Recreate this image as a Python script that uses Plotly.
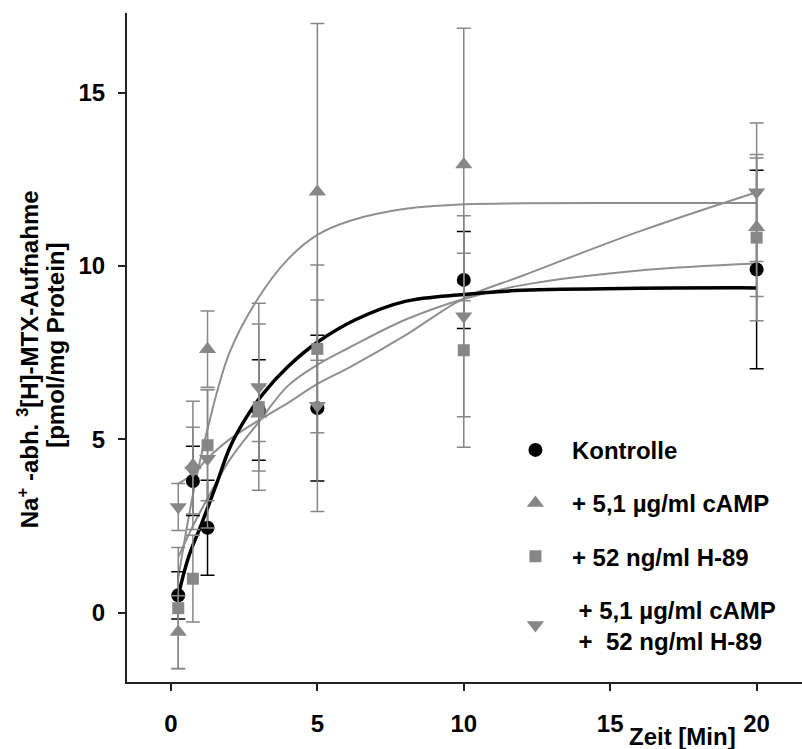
import plotly.graph_objects as go

# ---- data ----
times = [0.25, 0.75, 1.25, 3, 5, 10, 20]

kontrolle = [0.5, 3.8, 2.45, 5.85, 5.9, 9.6, 9.9]
kontrolle_sd = [0.68, 1.0, 1.37, 1.45, 2.1, 1.4, 2.86]

camp = [-0.56, 4.25, 7.6, 5.74, 12.14, 12.93, 11.12]
camp_sd = [1.05, 1.85, 1.1, 0.8, 4.86, 3.93, 2.0]

h89 = [0.13, 0.98, 4.83, 5.93, 7.61, 7.57, 10.82]
h89_sd = [1.75, 1.25, 1.6, 2.4, 2.42, 2.8, 2.4]

both = [3.05, 4.1, 4.44, 6.51, 5.97, 8.55, 12.13]
both_sd = [0.68, 1.25, 2.0, 2.42, 3.05, 2.9, 2.0]

# fitted curves
fit_t_k = [0.25, 0.6, 1.05, 1.56, 2.02, 2.58, 3.15, 4.0, 5.0, 6.3, 8.0, 10.0, 12.0, 16.0, 20.0]
fit_k = [0.5, 1.6, 2.57, 3.72, 4.78, 5.64, 6.32, 7.1, 7.8, 8.45, 8.98, 9.18, 9.3, 9.36, 9.37]

fit_t = [0.25, 0.75, 1.25, 2.0, 3.0, 4.0, 5.0, 6.1, 8.0, 10.0, 12.0, 16.0, 20.0]
fit_camp = [1.0, 3.4, 5.3, 7.5, 9.1, 10.2, 10.9, 11.3, 11.65, 11.78, 11.81, 11.82, 11.82]
fit_h89 = [1.6, 2.5, 3.3, 4.4, 5.5, 6.55, 7.15, 7.65, 8.45, 9.05, 9.45, 9.87, 10.07]
fit_both = [3.72, 4.0, 4.45, 5.0, 5.55, 6.05, 6.6, 7.08, 8.0, 9.07, 9.72, 11.0, 12.13]

x_ticks = [0, 5, 10, 15, 20]
y_ticks = [0, 5, 10, 15]

labels = ["Kontrolle", "+ 5,1 µg/ml cAMP", "+ 52 ng/ml H-89",
          "\u00a0+ 5,1 µg/ml cAMP<br>\u00a0+\u00a0\u00a052 ng/ml H-89"]

GRAY = "#878787"
CURVE_GRAY = "#8f8f8f"
FONT = "Liberation Sans, Arial, sans-serif"

fig = go.Figure()

# fitted curves
for yy in (fit_camp, fit_h89, fit_both):
    fig.add_trace(go.Scatter(x=fit_t, y=yy, mode="lines", showlegend=False,
                             line=dict(color=CURVE_GRAY, width=2, shape="spline", smoothing=1.0),
                             hoverinfo="skip"))
fig.add_trace(go.Scatter(x=fit_t_k, y=fit_k, mode="lines", showlegend=False,
                         line=dict(color="black", width=3.5, shape="spline", smoothing=1.0),
                         hoverinfo="skip"))

# data points
series = [
    (kontrolle, kontrolle_sd, "circle", "black", 14, labels[0]),
    (camp, camp_sd, "triangle-up", GRAY, 15, labels[1]),
    (h89, h89_sd, "square", GRAY, 12, labels[2]),
    (both, both_sd, "triangle-down", GRAY, 15, labels[3]),
]
for i, (vals, sd, sym, col, sz, name) in enumerate(series):
    fig.add_trace(go.Scatter(
        x=times, y=vals, mode="markers", name=name, legendgroup=f"g{i}",
        marker=dict(symbol=sym, color=col, size=sz, line=dict(width=0)),
        error_y=dict(type="data", array=sd, visible=True, color=col,
                     thickness=1.5, width=7),
    ))

fig.update_layout(
    width=802, height=749,
    margin=dict(l=127, r=0, t=13, b=67, pad=0),
    paper_bgcolor="white", plot_bgcolor="white",
    font=dict(family=FONT, size=24, color="black", weight="bold"),
    legend=dict(x=0.551, y=0.380, xanchor="left", yanchor="top",
                bgcolor="rgba(0,0,0,0)", font=dict(size=24, weight="bold"),
                tracegroupgap=19, itemwidth=63),
    xaxis=dict(range=[-1.5, 21.55], tickvals=x_ticks, showgrid=False, zeroline=False,
               showline=True, linecolor="#222", linewidth=2,
               ticks="outside", ticklen=7, tickwidth=1.5, tickcolor="#222",
               tickfont=dict(size=24, weight="bold"), ticklabelstandoff=12),
    yaxis=dict(range=[-2.0, 17.3], tickvals=y_ticks, showgrid=False, zeroline=False,
               showline=True, linecolor="#222", linewidth=2,
               ticks="outside", ticklen=7, tickwidth=1.5, tickcolor="#222",
               tickfont=dict(size=24, weight="bold"), ticklabelstandoff=8),
    annotations=[
        dict(text="Zeit [Min]", xref="paper", yref="paper", x=0.8237, y=-0.0812,
             xanchor="center", yanchor="middle", showarrow=False,
             font=dict(size=24, weight="bold")),
        dict(text="Na<sup>+</sup> -abh. <sup>3</sup>[H]-MTX-Aufnahme", xref="paper", yref="paper",
             x=-0.1467, y=0.4824, xanchor="center", yanchor="middle", textangle=-90,
             showarrow=False, font=dict(size=24, weight="bold")),
        dict(text="[pmol/mg Protein]", xref="paper", yref="paper",
             x=-0.1052, y=0.504, xanchor="center", yanchor="middle", textangle=-90,
             showarrow=False, font=dict(size=24, weight="bold")),
    ],
)

fig.write_html("out.html")
